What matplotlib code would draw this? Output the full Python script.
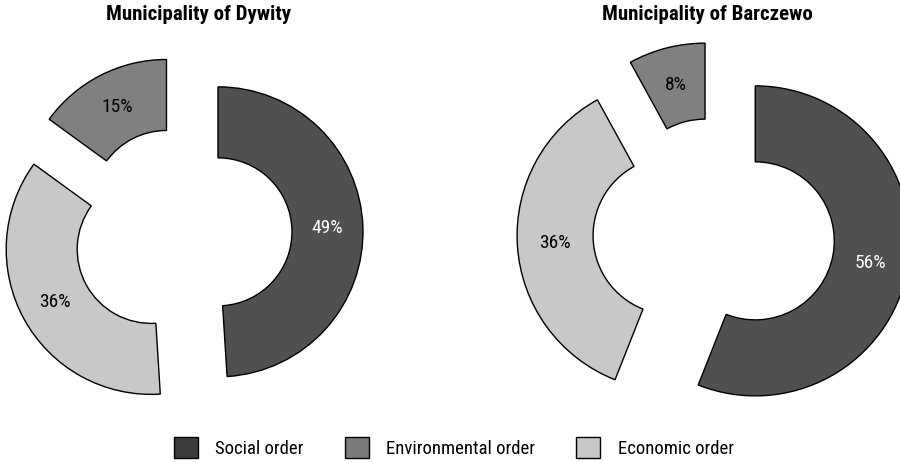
import matplotlib.pyplot as plt
from matplotlib import font_manager
from matplotlib.patches import Patch

# data
categories = ['Social order', 'Economic order', 'Environmental order']
dywity = [49, 36, 15]
barczewo = [56, 36, 8]
titles = ['Municipality of Dywity', 'Municipality of Barczewo']

legend_order = ['Social order', 'Environmental order', 'Economic order']

colors = {'Social order': '#505050', 'Environmental order': '#808080', 'Economic order': '#c8c8c8'}
legend_colors = {'Social order': '#3c3c3c', 'Environmental order': '#7a7a7a', 'Economic order': '#c8c8c8'}
label_colors = {'Social order': 'white', 'Environmental order': 'black', 'Economic order': 'black'}

# narrow font if one is there
installed = {f.name for f in font_manager.fontManager.ttflist}
family = 'Roboto Condensed' if 'Roboto Condensed' in installed else 'Roboto'
plt.rcParams['font.family'] = [family, 'DejaVu Sans']

W, H = 900, 462
fig = plt.figure(figsize=(W / 100, H / 100), dpi=100)
ax = fig.add_axes([0, 0, 1, 1])

# layout in pixels: centre (x, y from top), outer radius, ring width, explode
layout = [
    dict(center=(181, 233), radius=145, width=71, explode=[37, 34, 32], title_x=199),
    dict(center=(714, 233), radius=155, width=76, explode=[42, 42, 36], title_x=707),
]

for vals, ttl, lay in zip([dywity, barczewo], titles, layout):
    cx, cy = lay['center']
    R = lay['radius']
    wedges, texts, autotexts = ax.pie(
        vals,
        colors=[colors[c] for c in categories],
        explode=lay['explode'],
        startangle=90,
        counterclock=False,
        radius=R,
        center=(cx, H - cy),
        autopct='%d%%',
        pctdistance=1 - lay['width'] / (2 * R),
        wedgeprops=dict(width=lay['width'], edgecolor='black', linewidth=1.0),
        textprops=dict(fontsize=14),
    )
    for t, c in zip(autotexts, categories):
        t.set_color(label_colors[c])
    ax.text(lay['title_x'], H - 15, ttl, ha='center', va='center',
            fontsize=15, fontweight='bold')

ax.set_xlim(0, W)
ax.set_ylim(0, H)
ax.set_aspect('equal')
ax.axis('off')

handles = [Patch(facecolor=legend_colors[c], edgecolor='black', linewidth=1.0, label=c)
           for c in legend_order]
fig.legend(handles=handles, loc='center', bbox_to_anchor=(0.504, 0.031), ncol=3,
           frameon=False, fontsize=13.5, handlelength=1.28, handleheight=1.32,
           handletextpad=0.93, columnspacing=2.2, borderpad=0.0)

fig.savefig('out.png', dpi=100)
